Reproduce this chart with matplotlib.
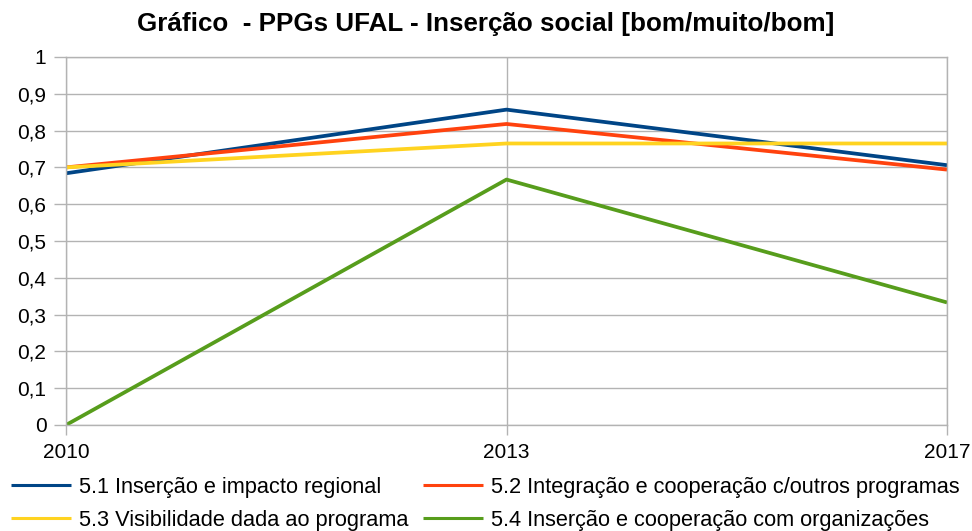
import matplotlib
matplotlib.use("Agg")
import matplotlib.pyplot as plt

plt.rcParams['font.family'] = ['Liberation Sans', 'DejaVu Sans']

years = ["2010", "2013", "2017"]
s51 = [0.684, 0.857, 0.706]
s52 = [0.700, 0.818, 0.694]
s53 = [0.700, 0.765, 0.765]
s54 = [0.000, 0.667, 0.333]
labels = ["5.1 Inserção e impacto regional",
          "5.2 Integração e cooperação c/outros programas",
          "5.3 Visibilidade dada ao programa",
          "5.4 Inserção e cooperação com organizações"]
colors = ["#004586", "#ff420e", "#ffd320", "#579d1c"]
title = "Gráfico  - PPGs UFAL - Inserção social [bom/muito/bom]"
yticks = [0, 0.1, 0.2, 0.3, 0.4, 0.5, 0.6, 0.7, 0.8, 0.9, 1]
ytick_labels = ["0", "0,1", "0,2", "0,3", "0,4", "0,5", "0,6", "0,7", "0,8", "0,9", "1"]

W, H = 972, 531
fig = plt.figure(figsize=(W/100, H/100), dpi=100)
ax = fig.add_axes([66/W, 1-425/H, (947-66)/W, (425-57)/H])

x = list(range(len(years)))
handles = []
for data, c, lab in zip([s51, s52, s53, s54], colors, labels):
    h, = ax.plot(x, data, color=c, lw=2.7, label=lab, solid_capstyle='butt')
    handles.append(h)

ax.set_xlim(0, len(years)-1)
ax.set_ylim(0, 1)
ax.set_xticks(x)
ax.set_xticklabels(years)
ax.set_yticks(yticks)
ax.set_yticklabels(ytick_labels)
ax.grid(True, color="#b3b3b3", lw=1)
ax.set_axisbelow(True)
for sp in ax.spines.values():
    sp.set_color("#b3b3b3")
    sp.set_linewidth(1)
ax.tick_params(axis='both', colors="#b3b3b3", labelcolor="black", labelsize=15, width=1)
ax.tick_params(axis='y', length=8.6, pad=5.5)
ax.tick_params(axis='x', length=7.2, pad=6)

fig.text(0.5, 1-24/H, title, ha='center', va='center', fontsize=18.7, fontweight='bold')

order = [0, 2, 1, 3]
leg = fig.legend(handles=[handles[i] for i in order], labels=[labels[i] for i in order],
           loc='upper left', bbox_to_anchor=(11/W, 1-477/H), ncol=2,
           frameon=False, fontsize=15.7, handlelength=2.75, handletextpad=0.37,
           columnspacing=0.68, labelspacing=0.55, borderpad=0, borderaxespad=0)
for ln in leg.get_lines():
    ln.set_linewidth(2.2)

fig.savefig("out.png", dpi=100)
